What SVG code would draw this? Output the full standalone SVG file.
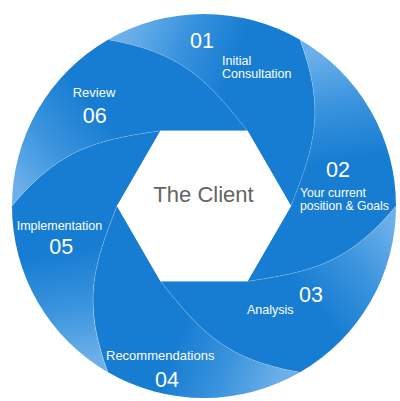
<svg xmlns="http://www.w3.org/2000/svg" width="400" height="401" viewBox="0 0 400 401">
<style>
.lbl{font-family:"Liberation Sans",Arial,sans-serif;font-size:12.5px;fill:#ffffff}
.num{font-family:"Liberation Sans",Arial,sans-serif;font-size:21.5px;fill:#ffffff}
.hubtxt{font-family:"Liberation Sans",Arial,sans-serif;font-size:22px;fill:#646464}
.edge{fill:none;stroke:#ffffff;stroke-opacity:0.2;stroke-width:0.8}
</style>
<defs>
<linearGradient id="segGrad" gradientUnits="userSpaceOnUse" x1="14" y1="184" x2="100" y2="114">
<stop offset="0" stop-color="#6bb0ea"/>
<stop offset="0.5" stop-color="#3a93dd"/>
<stop offset="1" stop-color="#177dd2"/>
</linearGradient>
<path id="seg" d="M160.5,130.66 L247.5,130.66 C207.2,79.96 182,52.4 108,39.72 A192,192 0 0 0 12,206 C59.98,148.25 96.45,140.21 160.5,130.66 Z"/>
<path id="edge" d="M247.5,130.66 C207.2,79.96 182,52.4 108,39.72"/>
</defs>
<g id="step-01">
<use href="#seg" fill="url(#segGrad)" transform="rotate(60 204 206)"/>
<text class="num" x="190" y="48.3">01</text>
<text class="lbl" x="222" y="64.5">Initial</text>
<text class="lbl" x="222" y="78">Consultation</text>
</g>
<g id="step-02">
<use href="#seg" fill="url(#segGrad)" transform="rotate(120 204 206)"/>
<text class="num" x="326" y="176.7">02</text>
<text class="lbl" x="300" y="196.5" style="font-size:12.2px">Your current</text>
<text class="lbl" x="300" y="209.5" style="font-size:12.2px">position &amp; Goals</text>
</g>
<g id="step-03">
<use href="#seg" fill="url(#segGrad)" transform="rotate(180 204 206)"/>
<text class="num" x="299" y="302">03</text>
<text class="lbl" x="247" y="314.3">Analysis</text>
</g>
<g id="step-04">
<use href="#seg" fill="url(#segGrad)" transform="rotate(240 204 206)"/>
<text class="lbl" x="106" y="360" style="font-size:13px">Recommendations</text>
<text class="num" x="155" y="386.7">04</text>
</g>
<g id="step-05">
<use href="#seg" fill="url(#segGrad)" transform="rotate(300 204 206)"/>
<text class="lbl" x="16.7" y="230">Implementation</text>
<text class="num" x="49.3" y="254">05</text>
</g>
<g id="step-06">
<use href="#seg" fill="url(#segGrad)"/>
<text class="lbl" x="72.7" y="96.7" style="font-size:13px">Review</text>
<text class="num" x="82.7" y="122.7">06</text>
</g>
<g id="connectors">
<use href="#edge" class="edge"/>
<use href="#edge" class="edge" transform="rotate(60 204 206)"/>
<use href="#edge" class="edge" transform="rotate(120 204 206)"/>
<use href="#edge" class="edge" transform="rotate(180 204 206)"/>
<use href="#edge" class="edge" transform="rotate(240 204 206)"/>
<use href="#edge" class="edge" transform="rotate(300 204 206)"/>
</g>
<g id="hub">
<polygon points="117,206 160.5,130.66 247.5,130.66 291,206 247.5,281.34 160.5,281.34" fill="#ffffff"/>
<text class="hubtxt" x="203.5" y="202" text-anchor="middle">The Client</text>
</g>
</svg>
